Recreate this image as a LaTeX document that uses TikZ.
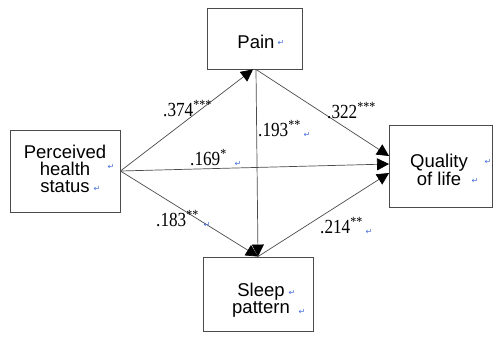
\documentclass[tikz,border=0pt]{standalone}
\usepackage{fontspec}
\usetikzlibrary{arrows.meta,calc}
\setmainfont{Liberation Sans}
\newfontfamily\numfont[FakeStretch=0.86]{Liberation Serif}
\newfontfamily\markfont{DejaVu Sans}
\definecolor{markblue}{RGB}{70,110,220}
\definecolor{edgegray}{RGB}{75,75,75}

\begin{document}
\begin{tikzpicture}[x=1pt,y=-1pt,
  box/.style={draw=edgegray, line width=0.9pt, inner sep=0pt, fill=white},
  boxtext/.style={inner sep=0pt, align=center, font=\fontsize{18.5}{17}\selectfont},
  coef/.style={inner sep=0pt, anchor=base west, font=\numfont\fontsize{20}{20}\selectfont},
  retmark/.style={inner sep=0pt, text=markblue, font=\markfont\fontsize{8}{8}\selectfont},
  link/.style={draw=edgegray, line width=0.7pt, -{Triangle[length=12pt,width=12pt,color=black]}}
]
\useasboundingbox (0,0) rectangle (496,339);

% boxes
\node[box, minimum width=110pt, minimum height=82pt] (perc) at (65,171) {};
\node[box, minimum width=95pt, minimum height=61pt] (pain) at (254.5,38.5) {};
\node[box, minimum width=103pt, minimum height=82pt] (qual) at (441,166) {};
\node[box, minimum width=110pt, minimum height=74pt] (sleep) at (258,294) {};

% box texts
\node[boxtext] (perct) at (65,169) {Perceived\\health\\status};
\node[boxtext] (paint) at (256,42) {Pain};
\node[boxtext] (qualt) at (439,170) {Quality\\of life};
\node[boxtext] (sleept) at (261,300) {Sleep\\pattern};

% paragraph marks
\node[retmark] (m1) at (111,167) {↵};
\node[retmark] (m2) at (97,189) {↵};
\node[retmark] (m3) at (281,43) {↵};
\node[retmark] (m4) at (488,162) {↵};
\node[retmark] (m5) at (475,181) {↵};
\node[retmark] (m6) at (292,293) {↵};
\node[retmark] (m7) at (302,312) {↵};

% connection points
\coordinate (painin) at ($(pain.south)+(-1.5,0)$);
\coordinate (painout) at ($(pain.south)+(1.5,0)$);
\coordinate (qa) at ($(qual.west)+(0,-10)$);
\coordinate (qb) at ($(qual.west)+(0,-2)$);
\coordinate (qc) at ($(qual.west)+(0,7)$);

% paths
\draw[link] (perc.east) -- (painin);
\draw[link] (perc.east) -- (qb);
\draw[link] (perc.east) -- (sleep.north);
\draw[link] (painout) -- (sleep.north);
\draw[link] (painout) -- (qa);
\draw[link] (sleep.north) -- (qc);

% coefficients
\node[coef] (c1) at (163,117) {.374\textsuperscript{***}};
\node[coef] (c2) at (190,166) {.169\textsuperscript{*}};
\node[coef] (c3) at (258,137) {.193\textsuperscript{**}};
\node[coef] (c4) at (327,119) {.322\textsuperscript{***}};
\node[coef] (c5) at (156,227) {.183\textsuperscript{**}};
\node[coef] (c6) at (320,234) {.214\textsuperscript{**}};

\node[retmark] (m8) at (238,164) {↵};
\node[retmark] (m9) at (307,135) {↵};
\node[retmark] (m10) at (207,225) {↵};
\node[retmark] (m11) at (369,232) {↵};
\end{tikzpicture}
\end{document}
